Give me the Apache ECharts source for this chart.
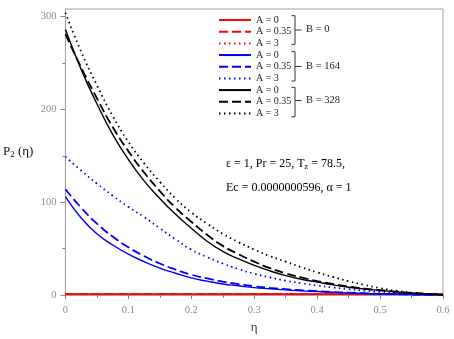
<!DOCTYPE html>
<html>
<head>
<meta charset="utf-8">
<script src="https://cdn.jsdelivr.net/npm/echarts@6/dist/echarts.min.js"></script>
<style>
  html, body { margin: 0; padding: 0; background: #fff; }
  #chart { width: 454px; height: 339px; }
</style>
</head>
<body>
<div id="chart"></div>
<script>
// eta grid
const eta = [0, 0.025, 0.05, 0.075, 0.1, 0.125, 0.15, 0.175, 0.2, 0.225, 0.25, 0.275, 0.3,
  0.325, 0.35, 0.375, 0.4, 0.425, 0.45, 0.475, 0.5, 0.525, 0.55, 0.575, 0.6];

// B = 0 (red)
const redA0 = [1, 1, 1, 1, 1, 1, 1, 1, 1, 1, 1, 1, 1, 1, 1, 1, 1, 1, 1, 1, 1, 1, 1, 1, 1];
const redA035 = [1, 1, 1, 1, 1, 1, 1, 1, 1, 1, 1, 1, 1, 1, 1, 1, 1, 1, 1, 1, 1, 1, 1, 1, 1];
const redA3 = [1, 1, 1, 1, 1, 1, 1, 1, 1, 1, 1, 1, 1, 1, 1, 1, 1, 1, 1, 1, 1, 1, 1, 1, 1];

// B = 164 (blue)
const blueA0 = [106, 83, 66, 54, 44, 36, 29, 23.5, 18.5, 15, 12, 10, 8, 6.8, 5.6, 4.6, 3.8, 3,
  2.4, 1.8, 1.3, 0.9, 0.6, 0.3, 0.1];
const blueA035 = [114, 94, 77, 63, 51.5, 42, 34, 27.5, 22, 18, 14.5, 11.8, 9.5, 7.8, 6.4, 5.2,
  4.2, 3.3, 2.6, 2, 1.4, 1, 0.6, 0.3, 0.1];
const blueA3 = [149, 134, 120, 107, 95, 84, 72, 60, 49, 41, 34, 28, 23, 19, 15.5, 12.7, 10.3,
  8.2, 6.4, 4.8, 3.4, 2.2, 1.3, 0.6, 0.2];

// B = 328 (black)
const blackA0 = [286, 243, 206, 173, 146, 123, 104, 87, 72, 58, 47, 39, 32, 26, 21, 17, 14, 11,
  8.5, 6.5, 5, 3.5, 2.2, 1.2, 0.5];
const blackA035 = [281, 245, 212, 181, 155, 132, 112, 94, 79, 65, 53, 44, 36, 29, 23.5, 19, 15,
  12, 9.3, 7, 5.3, 3.7, 2.4, 1.3, 0.5];
const blackA3 = [304, 262, 226, 193, 165, 142, 122, 104, 89, 77, 66, 57, 49, 42, 36, 30, 24.5,
  19.5, 15, 11, 7.5, 4.7, 2.5, 1.2, 0.5];

const xTicks = [0, 0.1, 0.2, 0.3, 0.4, 0.5, 0.6];
const yTicks = [0, 100, 200, 300];
const yMinorTicks = [50, 150, 250];

const serif = 'Liberation Serif';
const gray = '#8c8c8c';

function pts(arr) {
  return eta.map((x, i) => [x, arr[i]]);
}

function line(name, arr, color, type, width) {
  return {
    name: name,
    type: 'line',
    data: pts(arr),
    smooth: true,
    symbol: 'none',
    clip: false,
    lineStyle: { color: color, type: type, width: width },
    itemStyle: { color: color }
  };
}

const dash = [9, 4];
const dot = [1.5, 3.5];

const series = [
  line('A = 0 (B0)', redA0, '#ff0000', 'solid', 1.6),
  line('A = 0.35 (B0)', redA035, '#ff0000', dash, 1.6),
  line('A = 3 (B0)', redA3, '#ff0000', dot, 1.6),
  line('A = 0 (B164)', blueA0, '#0000ff', 'solid', 1.4),
  line('A = 0.35 (B164)', blueA035, '#0000ff', dash, 1.8),
  line('A = 3 (B164)', blueA3, '#0000ff', dot, 1.8),
  line('A = 0 (B328)', blackA0, '#000000', 'solid', 1.4),
  line('A = 0.35 (B328)', blackA035, '#000000', dash, 1.8),
  line('A = 3 (B328)', blackA3, '#000000', dot, 1.8)
];

function brace(top, bottom) {
  return {
    type: 'polyline',
    silent: true,
    shape: { points: [[291.5, top], [295, top], [295, bottom], [291.5, bottom]] },
    style: { stroke: '#333', lineWidth: 1, fill: null }
  };
}
function braceTick(mid) {
  return {
    type: 'line',
    silent: true,
    shape: { x1: 295, y1: mid, x2: 301.5, y2: mid },
    style: { stroke: '#333', lineWidth: 1 }
  };
}
function braceLabel(text, mid) {
  return {
    type: 'text',
    left: 306,
    top: mid - 6,
    style: { text: text, font: '10.5px "' + serif + '"', fill: '#222' }
  };
}

const chart = echarts.init(document.getElementById('chart'));
chart.setOption({
  animation: false,
  backgroundColor: '#fff',
  grid: {
    left: 64, right: 11, top: 9, bottom: 38,
    show: true, borderColor: '#a0a0a0', borderWidth: 1
  },
  legend: {
    orient: 'vertical',
    left: 218,
    top: 14.2,
    padding: 0,
    itemWidth: 32,
    itemHeight: 11,
    itemGap: 0,
    itemStyle: { opacity: 0 },
    formatter: name => name.split(' (')[0],
    textStyle: { fontFamily: serif, fontSize: 10, lineHeight: 11.67, color: '#222' }
  },
  xAxis: {
    type: 'value',
    min: 0,
    max: 0.6,
    interval: 0.1,
    name: 'η',
    nameLocation: 'middle',
    nameGap: 23,
    nameTextStyle: { fontFamily: serif, fontSize: 13, color: '#333' },
    axisLine: { lineStyle: { color: '#a0a0a0' } },
    axisTick: { show: true, length: 4, lineStyle: { color: '#888' } },
    minorTick: { show: true, splitNumber: 2, length: 3, lineStyle: { color: '#888' } },
    splitLine: { show: false },
    axisLabel: {
      customValues: xTicks,
      margin: 10,
      fontFamily: serif, fontSize: 10.5, color: gray,
      formatter: v => String(Math.round(v * 10) / 10)
    }
  },
  yAxis: [{
    type: 'value',
    min: 0,
    max: 308,
    name: 'P{s|2} (η)',
    nameLocation: 'middle',
    nameRotate: 0,
    nameGap: 32,
    nameTextStyle: {
      fontFamily: serif, fontSize: 13, color: '#111', align: 'right',
      rich: { s: { fontFamily: serif, fontSize: 9, verticalAlign: 'bottom', padding: [6, 0, 0, 0] } }
    },
    axisLine: { show: true, lineStyle: { color: '#a0a0a0' } },
    axisTick: { show: true, customValues: yTicks, length: 5, lineStyle: { color: '#888' } },
    splitLine: { show: false },
    axisLabel: {
      customValues: yTicks,
      margin: 9,
      fontFamily: serif, fontSize: 10.5, color: gray
    }
  }, {
    type: 'value',
    position: 'left',
    min: 0,
    max: 308,
    axisLine: { show: false },
    axisTick: { show: true, customValues: yMinorTicks, length: 3, lineStyle: { color: '#888' } },
    axisLabel: { show: false },
    splitLine: { show: false }
  }],
  graphic: [
    brace(15.7, 44.3), braceTick(30), braceLabel('B = 0', 30),
    brace(51.7, 81), braceTick(66.5), braceLabel('B = 164', 66.5),
    brace(87.3, 116.7), braceTick(100.5), braceLabel('B = 328', 100.5),
    {
      type: 'text',
      left: 226,
      top: 158,
      style: {
        text: 'ε = 1, Pr = 25, T{s|z} = 78.5,',
        font: '12px "' + serif + '"',
        fill: '#000',
        rich: { s: { font: '8px "' + serif + '"', padding: [6, 0, 0, 0] } }
      }
    },
    {
      type: 'text',
      left: 226,
      top: 182,
      style: {
        text: 'Ec = 0.0000000596, α = 1',
        font: '12px "' + serif + '"',
        fill: '#000'
      }
    }
  ],
  series: series
});
</script>
</body>
</html>
